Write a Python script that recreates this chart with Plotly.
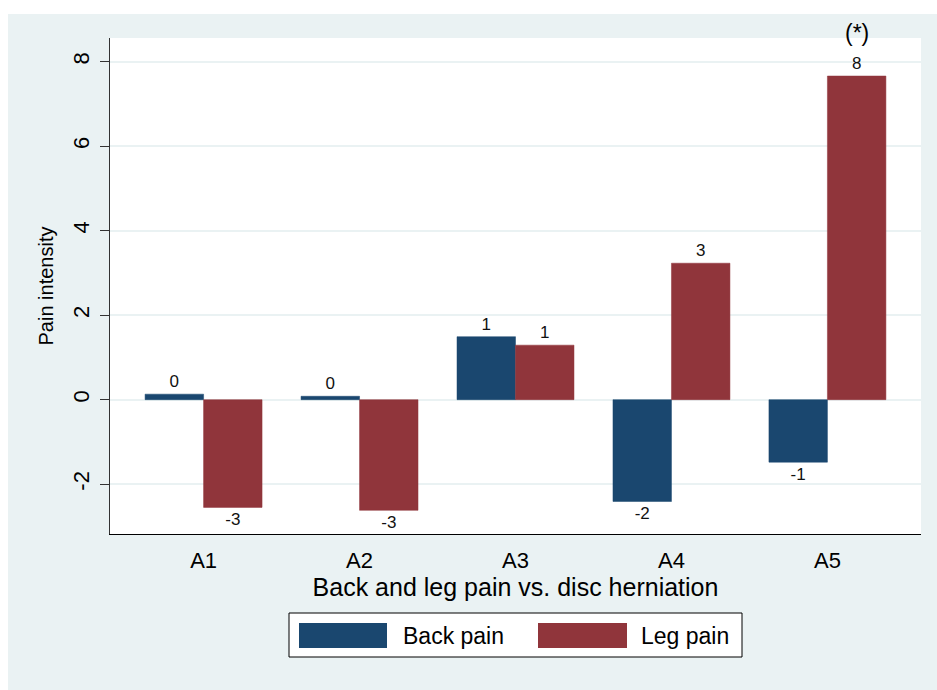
import plotly.graph_objects as go

# ---- data ----
categories = ["A1", "A2", "A3", "A4", "A5"]
back_pain = [0.13, 0.08, 1.49, -2.41, -1.48]
leg_pain = [-2.55, -2.62, 1.29, 3.23, 7.66]
series_names = ["Back pain", "Leg pain"]
y_ticks = [-2, 0, 2, 4, 6, 8]
note_text = "(*)"

NAVY = "#1A476F"
MAROON = "#90353B"
BG = "#EAF2F3"
FONT = "Liberation Sans, Arial, Helvetica, sans-serif"

W, H = 937, 690
ML, MR, MT, MB = 110, 16, 38, 156
PW, PH = W - ML - MR, H - MT - MB
BARGAP = 0.25


def px_x(p):
    return (p - ML) / PW


def px_y(p):
    return (H - MB - p) / PH


def lab(vals):
    return [f"{round(v):.0f}" for v in vals]


fig = go.Figure()
for name, vals, col in [(series_names[0], back_pain, NAVY), (series_names[1], leg_pain, MAROON)]:
    fig.add_trace(go.Bar(
        x=categories, y=vals, name=name,
        marker=dict(color=col, line=dict(color=col, width=0.5)),
        text=lab(vals), textposition="outside",
        textfont=dict(size=17, color="#111111", family=FONT),
        cliponaxis=False, showlegend=False,
    ))

shapes = [
    # graph region background
    dict(type="rect", xref="paper", yref="paper", layer="below",
         x0=px_x(8), x1=px_x(W + 5), y0=px_y(H + 5), y1=px_y(14),
         fillcolor=BG, line=dict(width=0)),
    # plot region
    dict(type="rect", xref="paper", yref="paper", layer="below",
         x0=0, x1=1, y0=0, y1=1, fillcolor="white", line=dict(width=0)),
    # legend box
    dict(type="rect", xref="paper", yref="paper",
         x0=px_x(289), x1=px_x(742), y0=px_y(657), y1=px_y(613),
         fillcolor="white", line=dict(color="black", width=1)),
    dict(type="rect", xref="paper", yref="paper",
         x0=px_x(299), x1=px_x(387), y0=px_y(648), y1=px_y(623),
         fillcolor=NAVY, line=dict(width=0)),
    dict(type="rect", xref="paper", yref="paper",
         x0=px_x(538), x1=px_x(627), y0=px_y(648), y1=px_y(623),
         fillcolor=MAROON, line=dict(width=0)),
]

annotations = [
    dict(xref="paper", yref="paper", x=px_x(401), y=px_y(636), text=series_names[0],
         showarrow=False, xanchor="left", yanchor="middle",
         font=dict(size=23, color="black", family=FONT)),
    dict(xref="paper", yref="paper", x=px_x(639), y=px_y(636), text=series_names[1],
         showarrow=False, xanchor="left", yanchor="middle",
         font=dict(size=23, color="black", family=FONT)),
    dict(xref="x", yref="y", x=len(categories) - 1 + (1 - BARGAP) / 4, y=leg_pain[-1],
         text=note_text, showarrow=False, xanchor="center", yanchor="bottom",
         yshift=28, font=dict(size=23, color="black", family=FONT)),
]

fig.update_layout(
    width=W, height=H,
    margin=dict(l=ML, r=MR, t=MT, b=MB, pad=0),
    paper_bgcolor="white", plot_bgcolor="rgba(0,0,0,0)",
    barmode="group", bargap=BARGAP, bargroupgap=0,
    font=dict(family=FONT, color="black"),
    shapes=shapes, annotations=annotations,
    xaxis=dict(
        range=[-0.6, 4.6], showgrid=False, zeroline=False,
        showline=True, linecolor="black", linewidth=1.2,
        ticks="", tickfont=dict(size=22), ticklabelstandoff=6,
        title=dict(text="Back and leg pain vs. disc herniation",
                   font=dict(size=25), standoff=2),
    ),
    yaxis=dict(
        range=[-3.18, 8.56], tickvals=y_ticks, ticktext=[str(t) for t in y_ticks],
        showgrid=True, gridcolor=BG, gridwidth=2, zeroline=False,
        showline=True, linecolor="#333333", linewidth=1.2,
        ticks="outside", ticklen=9, tickcolor="#333333", tickwidth=1.2,
        tickangle=-90, tickfont=dict(size=22), ticklabelstandoff=2,
        title=dict(text="Pain intensity", font=dict(size=20), standoff=10),
    ),
)

fig.write_html("out.html",
               config={"displayModeBar": False},
               post_script="document.body.style.margin='0';document.body.style.overflow='hidden';")
